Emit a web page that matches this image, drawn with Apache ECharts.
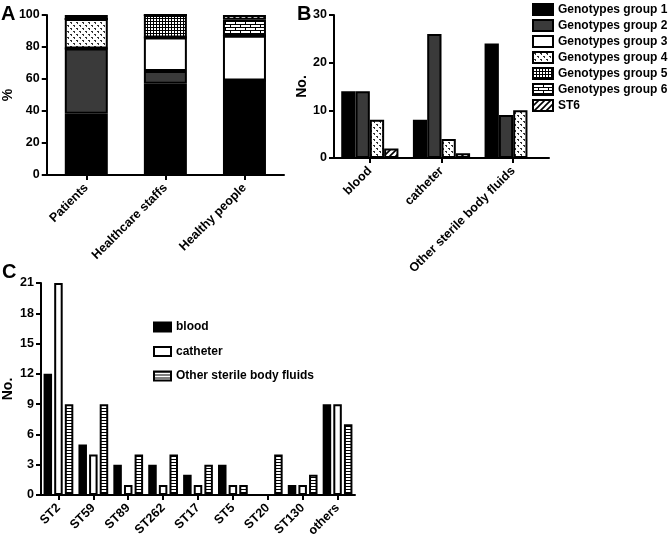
<!DOCTYPE html>
<html><head><meta charset="utf-8">
<script src="https://cdn.jsdelivr.net/npm/echarts@6/dist/echarts.min.js"></script>
<style>html,body{margin:0;padding:0;background:#fff}#c{width:670px;height:541px}</style>
</head><body><div id="c"></div>
<script>
// ---- Data ----
const seriesNames = ['Genotypes group 1','Genotypes group 2','Genotypes group 3','Genotypes group 4','Genotypes group 5','Genotypes group 6','ST6'];
// Panel A (% by population)
const catA = ['Patients','Healthcare staffs','Healthy people'];
const aG1 = [38.3, 57, 59];
const aG2 = [40.8, 8, 0];
const aG3 = [0, 21, 28];
const aG4 = [18.4, 0, 0];
const aG5 = [0, 14, 0];
const aG6 = [0, 0, 10];
const aST6 = [2.5, 0, 3];
// Panel B (No. by specimen)
const catB = ['blood','catheter','Other sterile body fluids'];
const bG1 = [14, 8, 24];
const bG2 = [14, 26, 9];
const bG4 = [8, 4, 10];
const bST6 = [2, 1, 0];
// Panel C (No. by ST)
const catC = ['ST2','ST59','ST89','ST262','ST17','ST5','ST20','ST130','others'];
const cNames = ['blood','catheter','Other sterile body fluids'];
const cBlood = [12, 5, 3, 3, 2, 3, 0, 1, 9];
const cCatheter = [21, 4, 1, 1, 1, 1, 0, 1, 9];
const cOther = [9, 9, 4, 4, 3, 1, 4, 2, 7];

// ---- Patterns ----
function pat(w, h, draw) {
  const cv = document.createElement('canvas'); cv.width = w; cv.height = h;
  const ctx = cv.getContext('2d'); ctx.fillStyle = '#fff'; ctx.fillRect(0, 0, w, h);
  draw(ctx); return { image: cv, repeat: 'repeat' };
}
const fillDots = pat(6, 6, c => { c.fillStyle = '#333'; c.fillRect(1, 1, 2, 1); c.fillRect(2, 2, 1, 1); c.fillRect(4, 4, 2, 1); c.fillRect(5, 5, 1, 1); });
const fillGrid = pat(3, 3, c => { c.fillStyle = '#000'; c.fillRect(0, 0, 3, 3); c.fillStyle = '#fff'; c.fillRect(1, 1, 2, 2); });
const fillBrick = pat(10, 6, c => { c.fillStyle = '#000'; c.fillRect(0, 0, 10, 1); c.fillRect(0, 3, 10, 1); c.fillRect(0, 0, 1, 3); c.fillRect(5, 3, 1, 3); });
const fillHatch = pat(6, 6, c => { c.strokeStyle = '#000'; c.lineWidth = 1.6; c.beginPath(); c.moveTo(-1, 7); c.lineTo(7, -1); c.moveTo(-1, 1); c.lineTo(1, -1); c.moveTo(5, 7); c.lineTo(7, 5); c.stroke(); });
const fillStripe = pat(2, 3, c => { c.fillStyle = '#000'; c.fillRect(0, 0, 2, 1); });

const gFills = ['#000000', '#3a3a3a', '#ffffff', fillDots, fillGrid, fillBrick, fillHatch];
const cFills = ['#000000', '#ffffff', fillStripe];

const FONT = 'Liberation Sans, Arial, sans-serif';
const lbl = { fontFamily: FONT, fontWeight: 'bold', color: '#000', fontSize: 12 };
const axisLine = { show: true, lineStyle: { color: '#000', width: 2 } };
const axisTick = { show: true, length: 5, lineStyle: { color: '#000', width: 2 } };

function catAxis(gi, data, extra) {
  return Object.assign({ type: 'category', gridIndex: gi, data: data, axisLine: axisLine,
    axisTick: Object.assign({ alignWithLabel: true }, axisTick),
    axisLabel: Object.assign({ rotate: 45, margin: 11, interval: 0 }, lbl, { fontSize: 12.5 }), splitLine: { show: false } }, extra || {});
}
function valAxis(gi, max, interval, name, gap) {
  return { type: 'value', gridIndex: gi, min: 0, max: max, interval: interval, name: name,
    nameLocation: 'middle', nameGap: gap, nameRotate: 90,
    nameTextStyle: { fontFamily: FONT, fontWeight: 'bold', color: '#000', fontSize: 14 },
    axisLine: axisLine, axisTick: axisTick, axisLabel: Object.assign({ margin: 7 }, lbl, { fontSize: 12.5 }),
    splitLine: { show: false } };
}
const border = { borderColor: '#000', borderWidth: 2 };

const aData = [aG1, aG2, aG3, aG4, aG5, aG6, aST6];
const series = [];
aData.forEach((d, i) => series.push({ type: 'bar', name: seriesNames[i], xAxisIndex: 0, yAxisIndex: 0, stack: 'A',
  data: d, barWidth: 43, itemStyle: Object.assign({ color: gFills[i] }, border) }));
const bData = [[bG1, 0], [bG2, 1], [bG4, 3], [bST6, 6]];
bData.forEach(([d, k]) => series.push({ type: 'bar', name: seriesNames[k], xAxisIndex: 1, yAxisIndex: 1,
  data: d, barWidth: 14.3, barGap: '0%', itemStyle: Object.assign({ color: gFills[k] }, border) }));
[cBlood, cCatheter, cOther].forEach((d, i) => series.push({ type: 'bar', name: cNames[i], xAxisIndex: 2, yAxisIndex: 2,
  data: d, barWidth: 8.5, barGap: '25%', itemStyle: Object.assign({ color: cFills[i] }, border) }));

const chart = echarts.init(document.getElementById('c'), null, { renderer: 'canvas' });
chart.setOption({
  animation: false,
  backgroundColor: '#fff',
  title: [
    { text: 'A', left: 1, top: 4, padding: 0, textStyle: { fontFamily: FONT, fontWeight: 'bold', fontSize: 20, color: '#000' } },
    { text: 'B', left: 297, top: 4, padding: 0, textStyle: { fontFamily: FONT, fontWeight: 'bold', fontSize: 20, color: '#000' } },
    { text: 'C', left: 2, top: 262, padding: 0, textStyle: { fontFamily: FONT, fontWeight: 'bold', fontSize: 20, color: '#000' } }
  ],
  grid: [
    { left: 42, top: 15, width: 242, height: 160 },
    { left: 334, top: 15, width: 215, height: 143 },
    { left: 39, top: 283, width: 316, height: 212 }
  ],
  xAxis: [catAxis(0, catA), catAxis(1, catB), catAxis(2, catC)],
  yAxis: [valAxis(0, 100, 20, '%', 28), valAxis(1, 30, 10, 'No.', 24), valAxis(2, 21, 3, 'No.', 26)],
  legend: [
    { data: seriesNames, orient: 'vertical', left: 532, top: 3, padding: 0, icon: 'rect', itemWidth: 20, itemHeight: 11,
      itemGap: 3, selectedMode: false, textStyle: { fontFamily: FONT, fontWeight: 'bold', fontSize: 12, color: '#000' } },
    { data: cNames, orient: 'vertical', left: 153, top: 321, padding: 0, icon: 'rect', itemWidth: 17, itemHeight: 9,
      itemGap: 12.5, selectedMode: false, textStyle: { fontFamily: FONT, fontWeight: 'bold', fontSize: 12, color: '#000' } }
  ],
  series: series
});
</script></body></html>
